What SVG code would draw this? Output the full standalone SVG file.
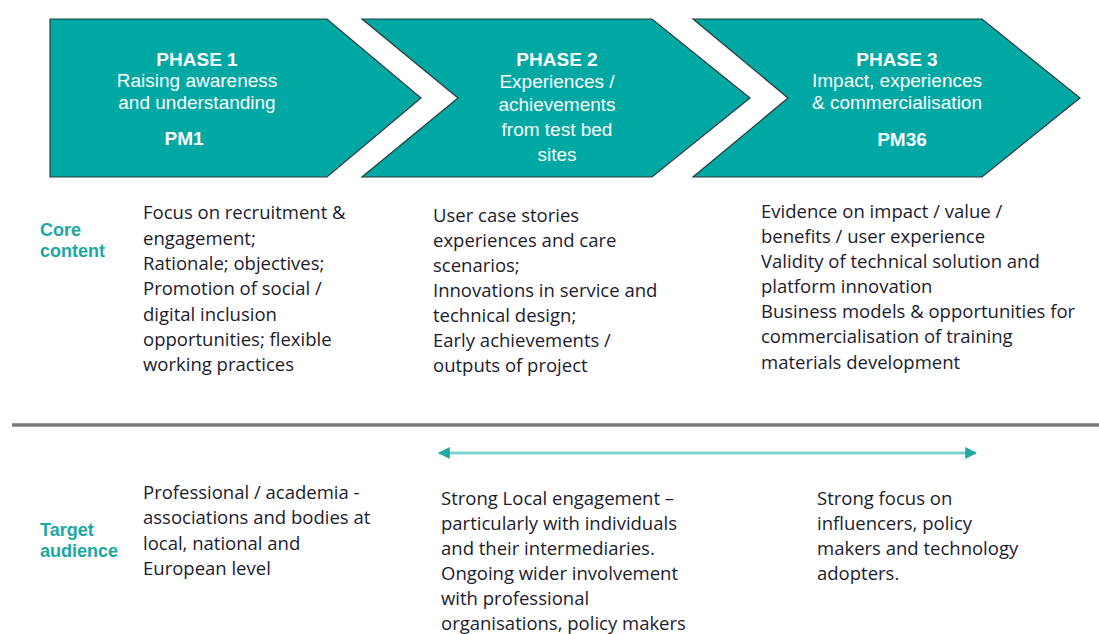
<svg xmlns="http://www.w3.org/2000/svg" width="1099" height="634" viewBox="0 0 1099 634">
<defs>
<style>
.chev{fill:#00A8A4;stroke:#2b3b3b;stroke-width:1.2}
.ph{font-family:"Liberation Sans",Arial,sans-serif;font-size:19px;font-weight:bold;fill:#ffffff;text-anchor:middle}
.pt{font-family:"Liberation Sans",Arial,sans-serif;font-size:19px;fill:#ffffff;text-anchor:middle}
.lbl{font-family:"Liberation Sans",Arial,sans-serif;font-size:18px;font-weight:bold;fill:#1BA7A2}
.body{font-family:"Open Sans",Lato,sans-serif;font-size:18.5px;fill:#1c1c2c}
</style>
<marker id="ah" viewBox="0 0 10 10" refX="9" refY="5" markerWidth="4" markerHeight="4" orient="auto-start-reverse" markerUnits="strokeWidth">
<path d="M0,0 L10,5 L0,10 z" fill="#1FAAA4"/>
</marker>
</defs>
<rect width="1099" height="634" fill="#ffffff"/>

<g id="phase1">
<polygon class="chev" points="50,19 327,19 421,98 327,177 50,177"/>
<text class="ph" x="197" y="66">PHASE 1</text>
<text class="pt" x="197" y="87">Raising awareness</text>
<text class="pt" x="197" y="109">and understanding</text>
<text class="ph" x="184" y="145">PM1</text>
</g>

<g id="phase2">
<polygon class="chev" points="362,19 652,19 750,98 652,177 362,177 458,98"/>
<text class="ph" x="557" y="66">PHASE 2</text>
<text class="pt" x="557" y="88">Experiences /</text>
<text class="pt" x="557" y="111">achievements</text>
<text class="pt" x="557" y="136">from test bed</text>
<text class="pt" x="557" y="161">sites</text>
</g>

<g id="phase3">
<polygon class="chev" points="693,19 982,19 1080,98 982,177 693,177 788,98"/>
<text class="ph" x="897" y="66">PHASE 3</text>
<text class="pt" x="897" y="87">Impact, experiences</text>
<text class="pt" x="897" y="109">&amp; commercialisation</text>
<text class="ph" x="902" y="146">PM36</text>
</g>

<g id="core-label">
<text class="lbl" x="40" y="236">Core</text>
<text class="lbl" x="40" y="257">content</text>
</g>

<g id="core1">
<text class="body" x="143" y="219">Focus on recruitment &amp;</text>
<text class="body" x="143" y="245">engagement;</text>
<text class="body" x="143" y="270">Rationale; objectives;</text>
<text class="body" x="143" y="295">Promotion of social /</text>
<text class="body" x="143" y="321">digital inclusion</text>
<text class="body" x="143" y="346">opportunities; flexible</text>
<text class="body" x="143" y="371">working practices</text>
</g>

<g id="core2">
<text class="body" x="433" y="222">User case stories</text>
<text class="body" x="433" y="247">experiences and care</text>
<text class="body" x="433" y="272">scenarios;</text>
<text class="body" x="433" y="297">Innovations in service and</text>
<text class="body" x="433" y="322">technical design;</text>
<text class="body" x="433" y="347">Early achievements /</text>
<text class="body" x="433" y="372">outputs of project</text>
</g>

<g id="core3">
<text class="body" x="761" y="218">Evidence on impact / value /</text>
<text class="body" x="761" y="243">benefits / user experience</text>
<text class="body" x="761" y="268">Validity of technical solution and</text>
<text class="body" x="761" y="293">platform innovation</text>
<text class="body" x="761" y="318">Business models &amp; opportunities for</text>
<text class="body" x="761" y="343">commercialisation of training</text>
<text class="body" x="761" y="369">materials development</text>
</g>

<g id="separator">
<line x1="12" y1="425" x2="1099" y2="425" stroke="#7a7a7a" stroke-width="3.5"/>
</g>

<g id="connectors">
<line x1="439" y1="453" x2="976" y2="453" stroke="#7DD3CE" stroke-width="3" marker-start="url(#ah)" marker-end="url(#ah)"/>
</g>

<g id="target-label">
<text class="lbl" x="40" y="536">Target</text>
<text class="lbl" x="40" y="557">audience</text>
</g>

<g id="target1">
<text class="body" x="143" y="499">Professional / academia -</text>
<text class="body" x="143" y="524">associations and bodies at</text>
<text class="body" x="143" y="550">local, national and</text>
<text class="body" x="143" y="575">European level</text>
</g>

<g id="target2">
<text class="body" x="441" y="505">Strong Local engagement –</text>
<text class="body" x="441" y="530">particularly with individuals</text>
<text class="body" x="441" y="555">and their intermediaries.</text>
<text class="body" x="441" y="580">Ongoing wider involvement</text>
<text class="body" x="441" y="605">with professional</text>
<text class="body" x="441" y="630">organisations, policy makers</text>
</g>

<g id="target3">
<text class="body" x="817" y="505">Strong focus on</text>
<text class="body" x="817" y="530">influencers, policy</text>
<text class="body" x="817" y="555">makers and technology</text>
<text class="body" x="817" y="580">adopters.</text>
</g>
</svg>
